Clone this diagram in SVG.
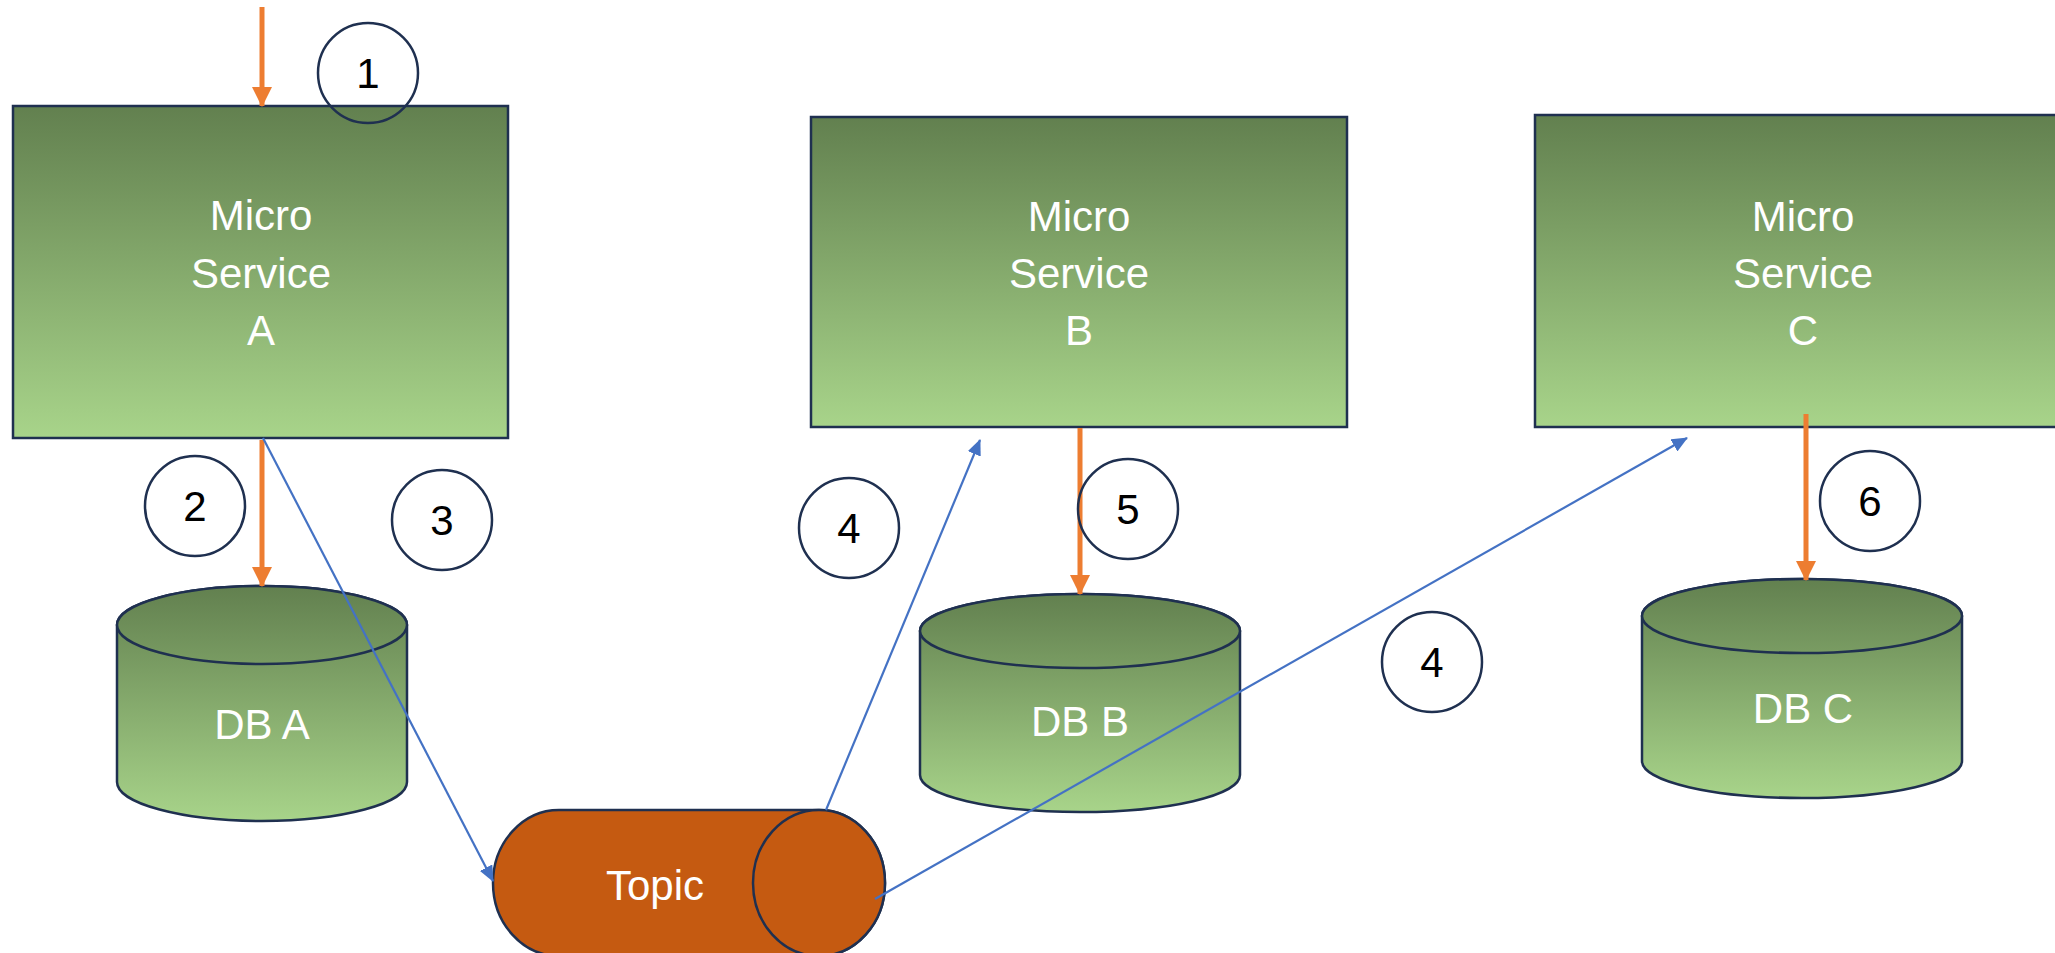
<svg xmlns="http://www.w3.org/2000/svg" width="2055" height="953" viewBox="0 0 2055 953">
<defs>
<linearGradient id="g" x1="0" y1="0" x2="0" y2="1">
<stop offset="0" stop-color="#62804F"/>
<stop offset="1" stop-color="#A8D48A"/>
</linearGradient>
<linearGradient id="gA" href="#g" gradientUnits="userSpaceOnUse" x1="0" y1="586" x2="0" y2="822"/>
<linearGradient id="gB" href="#g" gradientUnits="userSpaceOnUse" x1="0" y1="594" x2="0" y2="812"/>
<linearGradient id="gC" href="#g" gradientUnits="userSpaceOnUse" x1="0" y1="579" x2="0" y2="798"/>
<marker id="ao" markerUnits="userSpaceOnUse" markerWidth="20" markerHeight="20" viewBox="0 0 18 18" refX="17" refY="9" orient="auto">
<path d="M0,0 L18,9 L0,18 Z" fill="#ED7D31"/>
</marker>
<marker id="ab" markerUnits="userSpaceOnUse" markerWidth="16" markerHeight="14" viewBox="0 0 16 14" refX="15" refY="7" orient="auto">
<path d="M0,0 L16,7 L0,14 Z" fill="#4472C4"/>
</marker>
<style>
.box{fill:url(#g);stroke:#1F3050;stroke-width:2.5}
.db{stroke:#1F3050;stroke-width:2.5}
.lbl{font-family:"Liberation Sans",Arial,sans-serif;font-size:42px;fill:#FFFFFF;text-anchor:middle}
.num{font-family:"Liberation Sans",Arial,sans-serif;font-size:42px;fill:#000000;text-anchor:middle}
.circ{fill:none;stroke:#1F3050;stroke-width:2.5}
.or{stroke:#ED7D31;stroke-width:5;fill:none;marker-end:url(#ao)}
.bl{stroke:#4472C4;stroke-width:2.2;fill:none;marker-end:url(#ab)}
.topic{fill:#C55A11;stroke:#1F3050;stroke-width:2.5}
</style>
</defs>
<rect width="2055" height="953" fill="#FFFFFF"/>

<g id="msA">
<rect class="box" x="13" y="106" width="495" height="332"/>
<text class="lbl" x="261" y="230">Micro</text>
<text class="lbl" x="261" y="288">Service</text>
<text class="lbl" x="261" y="345">A</text>
</g>
<g id="msB">
<rect class="box" x="811" y="117" width="536" height="310"/>
<text class="lbl" x="1079" y="231">Micro</text>
<text class="lbl" x="1079" y="288">Service</text>
<text class="lbl" x="1079" y="345">B</text>
</g>
<g id="msC">
<rect class="box" x="1535" y="115" width="530" height="312"/>
<text class="lbl" x="1803" y="231">Micro</text>
<text class="lbl" x="1803" y="288">Service</text>
<text class="lbl" x="1803" y="345">C</text>
</g>

<g id="dbA">
<path class="db" fill="url(#gA)" d="M117,625 L117,782 A145,39 0 0 0 407,782 L407,625 A145,39 0 0 0 117,625 Z"/>
<ellipse class="db" fill="url(#gA)" cx="262" cy="625" rx="145" ry="39"/>
<text class="lbl" x="262" y="739">DB A</text>
</g>
<g id="dbB">
<path class="db" fill="url(#gB)" d="M920,631 L920,775 A160,37 0 0 0 1240,775 L1240,631 A160,37 0 0 0 920,631 Z"/>
<ellipse class="db" fill="url(#gB)" cx="1080" cy="631" rx="160" ry="37"/>
<text class="lbl" x="1080" y="736">DB B</text>
</g>
<g id="dbC">
<path class="db" fill="url(#gC)" d="M1642,616 L1642,761 A160,37 0 0 0 1962,761 L1962,616 A160,37 0 0 0 1642,616 Z"/>
<ellipse class="db" fill="url(#gC)" cx="1802" cy="616" rx="160" ry="37"/>
<text class="lbl" x="1803" y="723">DB C</text>
</g>

<g id="topic">
<path class="topic" d="M819,810 L559,810 A66,73 0 0 0 559,956 L819,956 A66,73 0 0 0 819,810 Z"/>
<ellipse class="topic" cx="819" cy="883" rx="66" ry="73"/>
<text class="lbl" x="655" y="900">Topic</text>
</g>

<g id="connectors">
<line class="or" x1="262" y1="7" x2="262" y2="106"/>
<line class="or" x1="262" y1="440" x2="262" y2="586"/>
<line class="or" x1="1080" y1="428" x2="1080" y2="594"/>
<line class="or" x1="1806" y1="414" x2="1806" y2="580"/>
<line class="bl" x1="263" y1="438" x2="493" y2="881"/>
<line class="bl" x1="826" y1="810" x2="980" y2="440"/>
<line class="bl" x1="875" y1="899" x2="1687" y2="438"/>
</g>

<g id="labels">
<g id="c1"><circle class="circ" cx="368" cy="73" r="50"/><text class="num" x="368" y="88">1</text></g>
<g id="c2"><circle class="circ" cx="195" cy="506" r="50"/><text class="num" x="195" y="521">2</text></g>
<g id="c3"><circle class="circ" cx="442" cy="520" r="50"/><text class="num" x="442" y="535">3</text></g>
<g id="c4a"><circle class="circ" cx="849" cy="528" r="50"/><text class="num" x="849" y="543">4</text></g>
<g id="c5"><circle class="circ" cx="1128" cy="509" r="50"/><text class="num" x="1128" y="524">5</text></g>
<g id="c4b"><circle class="circ" cx="1432" cy="662" r="50"/><text class="num" x="1432" y="677">4</text></g>
<g id="c6"><circle class="circ" cx="1870" cy="501" r="50"/><text class="num" x="1870" y="516">6</text></g>
</g>
</svg>
